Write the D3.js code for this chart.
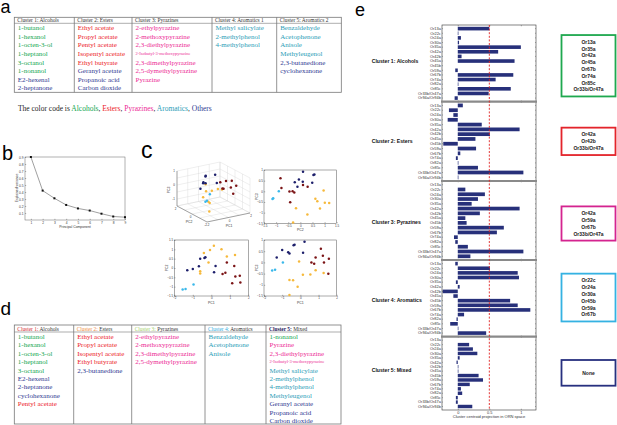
<!DOCTYPE html>
<html lang="en">
<head>
<meta charset="UTF-8">
<title>Odorant clusters and ORN projections</title>
<script src="https://d3js.org/d3.v7.min.js"></script>
<style>
  body { margin: 0; background: #fff; }
</style>
</head>
<body>
<svg id="fig" width="617" height="425"></svg>
<script>
const SERIF = "'Liberation Serif','Times New Roman',serif";
const SANS = "'Liberation Sans',Arial,sans-serif";

// odorant category colours: Alcohols, Esters, Pyrazines, aRomatics, Others
const catColors = { A: "#10a64f", E: "#ec2229", P: "#ec2b95", R: "#2b9db7", O: "#2f3a92" };

// ---------- panel a ----------
const headersA = ["Cluster 1: Alcohols", "Cluster 2: Esters", "Cluster 3: Pyrazines", "Cluster 4: Aromatics 1", "Cluster 5: Aromatics 2"];
const colsA = [
  [["1-butanol","A"],["1-hexanol","A"],["1-octen-3-ol","A"],["1-heptanol","A"],["3-octanol","A"],["1-nonanol","A"],["E2-hexenal","O"],["2-heptanone","O"]],
  [["Ethyl acetate","E"],["Propyl acetate","E"],["Pentyl acetate","E"],["Isopentyl acetate","E"],["Ethyl butyrate","E"],["Geranyl acetate","O"],["Propanoic acid","O"],["Carbon dioxide","O"]],
  [["2-ethylpyrazine","P"],["2-methoxypyrazine","P"],["2,3-diethylpyrazine","P"],["2-Isobutyl-3-methoxypyrazine","P"],["2,3-dimethylpyrazine","P"],["2,5-dymethylpyrazine","P"],["Pyrazine","P"]],
  [["Methyl salicylate","R"],["2-methylphenol","R"],["4-methylphenol","R"]],
  [["Benzaldehyde","R"],["Acetophenone","R"],["Anisole","R"],["Methyleugenol","R"],["2,3-butanedione","O"],["cyclohexanone","O"]]
];
const colorCode = [["Alcohols","A"],["Esters","E"],["Pyrazines","P"],["Aromatics","R"],["Others","O"]];

// ---------- panel b ----------
const pcNumber = [1, 2, 3, 4, 5, 6, 7, 8, 9];
const explainedVar = [0.9, 0.42, 0.31, 0.215, 0.165, 0.135, 0.09, 0.05, 0.04];

// ---------- panel c ----------
// 0 navy, 1 maroon, 2 light blue, 3 yellow
const pointCluster = [0,0,0,0,0,0,0,0, 1,1,1,1,1,1,1,1, 2,2,2, 3,3,3,3,3,3,3,3,3];
const pc1 = [-1.3,-1.0,-0.67,-0.6,-0.37,-0.32,0.15,0.23, 0.61,0.76,0.84,1.13,1.24,1.3,1.54,1.57, -1.55,-1.39,-0.96, -0.6,-0.6,-0.4,-0.15,-0.07,0.14,0.55,0.84,1.28];
const pc2 = [-0.12,-0.06,0.1,0.49,0.54,0.58,-0.23,0.11, -0.32,-0.25,0.3,-0.82,0.11,-0.45,-0.42,-0.78, -1.15,-1.12,-0.89, -0.3,-0.18,0.81,0.29,0.96,1.19,1.01,0.62,0.7];
const pc3 = [0.22,0.55,0.45,0.4,0.77,0.79,0.43,0.92, 0.0,-0.06,0.22,0.61,0.3,-0.01,-0.51,0.16, -0.36,-0.33,0.0, -1.46,-0.79,-0.8,-1.09,0.04,-0.55,-0.54,-0.35,-0.47];
const dotColors = ["#1d1f6b", "#7b1416", "#3ab8ea", "#f6b93b"];

// ---------- panel d ----------
const headersD = [["Cluster 1:", " Alcohols", "#d42a2f"], ["Cluster 2:", " Esters", "#f08a3a"], ["Cluster 3:", " Pyrazines", "#9fd06a"], ["Cluster 4:", " Aromatics", "#31aee2"], ["Cluster 5:", " Mixed", "#1f2060"]];
const colsD = [
  [["1-butanol","A"],["1-hexanol","A"],["1-octen-3-ol","A"],["1-heptanol","A"],["3-octanol","A"],["E2-hexenal","O"],["2-heptanone","O"],["cyclohexanone","O"],["Pentyl acetate","E"]],
  [["Ethyl acetate","E"],["Propyl acetate","E"],["Isopentyl acetate","E"],["Ethyl butyrate","E"],["2,3-butanedione","O"]],
  [["2-ethylpyrazine","P"],["2-methoxypyrazine","P"],["2,3-dimethylpyrazine","P"],["2,5-dymethylpyrazine","P"]],
  [["Benzaldehyde","R"],["Acetophenone","R"],["Anisole","R"]],
  [["1-nonanol","A"],["Pyrazine","P"],["2,3-diethylpyrazine","P"],["2-Isobutyl-3-methoxypyrazine","P"],["Methyl salicylate","R"],["2-methylphenol","R"],["4-methylphenol","R"],["Methyleugenol","R"],["Geranyl acetate","O"],["Propanoic acid","O"],["Carbon dioxide","O"]]
];

// ---------- panel e ----------
const receptors = ["Or13a","Or22c","Or24a","Or30a","Or35a","Or42a","Or42b","Or45a","Or45b","Or59a","Or67b","Or74a","Or82a","Or85c","Or33b/Or47a","Or94a/Or94b"];
const clusterNames = ["Cluster 1: Alcohols","Cluster 2: Esters","Cluster 3: Pyrazines","Cluster 4: Aromatics","Cluster 5: Mixed"];
const projC1 = [0.50,0.01,0.05,0.02,1.00,0.64,0.06,0.90,0.00,-0.04,0.88,0.60,0.01,0.84,0.49,-0.05];
const projC2 = [0.08,-0.14,-0.07,-0.16,0.38,0.98,0.51,0.28,-0.23,0.29,0.04,-0.03,0.01,0.32,1.04,0.01];
const projC3 = [0.00,0.12,0.43,0.32,0.22,0.98,0.35,0.12,0.14,0.73,0.62,-0.06,-0.04,0.16,1.04,0.20];
const projC4 = [-0.04,0.51,0.95,0.97,-0.03,0.03,-0.24,-0.07,0.83,0.95,1.15,0.10,-0.02,-0.12,0.01,0.45];
const projC5 = [0.00,0.18,0.24,0.31,0.03,-0.02,0.01,0.01,0.33,0.40,0.19,0.05,0.07,-0.03,-0.03,0.23];
const projections = [projC1, projC2, projC3, projC4, projC5];
const selectedOrs = [
  ["Or13a","Or35a","Or42a","Or45a","Or67b","Or74a","Or85c","Or33b/Or47a"],
  ["Or42a","Or42b","Or33b/Or47a"],
  ["Or42a","Or59a","Or67b","Or33b/Or47a"],
  ["Or22c","Or24a","Or30a","Or45b","Or59a","Or67b"],
  ["None"]
];
const boxColors = ["#1fa84f", "#e3242b", "#d4248f", "#35b2e2", "#27307f"];

const fig = d3.select("#fig");

function txt(g, x, y, s, size, o = {}) {
  const t = g.append("text").attr("x", x).attr("y", y).attr("font-size", size)
    .attr("font-family", o.family || SANS).attr("fill", o.fill || "#000").text(s);
  if (o.anchor) t.attr("text-anchor", o.anchor);
  if (o.weight) t.attr("font-weight", o.weight);
  if (o.rotate) t.attr("transform", `rotate(${o.rotate},${x},${y})`);
  return t;
}

function styleAxis(sel, size) {
  sel.select(".domain").remove();
  sel.selectAll("line").attr("stroke", "#444").attr("stroke-width", 0.4);
  sel.selectAll("text").attr("font-size", size).attr("font-family", SANS).attr("fill", "#333");
}

// panel letters
[["a", 0.5, 12.5, 18], ["b", 2, 160, 20], ["c", 141, 158, 23], ["d", 0.5, 315, 19], ["e", 355, 15.5, 18]]
  .forEach(([l, x, y, s]) => txt(fig, x, y, l, s));

// ---------- tables ----------
function drawTable(cfg, headers, cols) {
  const g = fig.append("g");
  const xs = cfg.x;
  g.append("rect").attr("x", xs[0]).attr("y", cfg.top)
    .attr("width", xs[xs.length - 1] - xs[0]).attr("height", cfg.bottom - cfg.top)
    .attr("fill", "none").attr("stroke", "#777").attr("stroke-width", 0.8);
  g.append("line").attr("x1", xs[0]).attr("x2", xs[xs.length - 1]).attr("y1", cfg.head).attr("y2", cfg.head)
    .attr("stroke", "#777").attr("stroke-width", 0.6);
  xs.slice(1, -1).forEach(x => g.append("line").attr("x1", x).attr("x2", x)
    .attr("y1", cfg.top).attr("y2", cfg.bottom).attr("stroke", "#777").attr("stroke-width", 0.8));
  headers.forEach((h, i) => {
    const t = txt(g, xs[i] + 3, cfg.head - 1.5, "", 5.4, { family: SERIF, fill: "#333" });
    if (typeof h === "string") t.text(h);
    else {
      t.append("tspan").attr("fill", h[2]).attr("font-weight", i === 4 ? "bold" : null).text(h[0]);
      t.append("tspan").text(h[1]);
    }
  });
  cols.forEach((col, i) => col.forEach(([name, cat], j) => {
    const small = name.length > 25;
    txt(g, xs[i] + 3.5, cfg.row0 + j * cfg.step - (small ? 0.8 : 0), name, small ? 4.5 : 7,
      { family: SERIF, fill: catColors[cat] });
  }));
}

drawTable({ x: [14.3, 74.3, 132, 212, 276.7, 341.3], top: 17.3, head: 23.3, bottom: 92.3, row0: 30.2, step: 8.6 }, headersA, colsA);

const cc = txt(fig, 18, 111, "The color code is ", 7.5, { family: SERIF, fill: "#222" });
colorCode.forEach(([w, c], i) => {
  cc.append("tspan").attr("fill", catColors[c]).text(w);
  if (i < colorCode.length - 1) cc.append("tspan").text(", ");
});

drawTable({ x: [14.3, 73.7, 131.7, 205, 266, 341], top: 325, head: 332, bottom: 424, row0: 339, step: 8.4 }, headersD, colsD);

// ---------- panel b ----------
{
  const g = fig.append("g");
  const x = d3.scaleLinear().domain([0.5, 9]).range([25, 125]);
  const y = d3.scaleLinear().domain([0, 0.9]).range([220, 157]);
  g.append("rect").attr("x", 25).attr("y", 157).attr("width", 100).attr("height", 63)
    .attr("fill", "none").attr("stroke", "#666").attr("stroke-width", 0.5);
  g.append("g").attr("transform", "translate(0,220)")
    .call(d3.axisBottom(x).tickValues(pcNumber).tickSize(-1.2).tickPadding(1.5)).call(s => styleAxis(s, 3.2));
  g.append("g").attr("transform", "translate(25,0)")
    .call(d3.axisLeft(y).tickValues(d3.range(1, 10).map(v => v / 10)).tickSize(-1.2).tickPadding(1.5)).call(s => styleAxis(s, 3.2));
  const pts = pcNumber.map((p, i) => [x(p), y(explainedVar[i])]);
  g.append("path").attr("d", d3.line()(pts)).attr("fill", "none").attr("stroke", "#777").attr("stroke-width", 0.7);
  g.selectAll(".m").data(pts).enter().append("rect")
    .attr("x", d => d[0] - 1).attr("y", d => d[1] - 1).attr("width", 2).attr("height", 2).attr("fill", "#111");
  txt(g, 75, 228, "Principal Component", 3.4, { anchor: "middle", fill: "#333" });
  txt(g, 18, 188, "Explained variance", 3.4, { anchor: "middle", fill: "#333", rotate: -90 });
}

// ---------- panel c ----------
const pts = pc1.map((v, i) => ({ a: v, b: pc2[i], c: pc3[i], k: pointCluster[i] }));

function scatter2d(r, xd, yd, xt, yt, xf, yf, xl, yl) {
  const g = fig.append("g");
  const x = d3.scaleLinear().domain(xd).range([r.x0, r.x1]);
  const y = d3.scaleLinear().domain(yd).range([r.y1, r.y0]);
  g.append("rect").attr("x", r.x0).attr("y", r.y0).attr("width", r.x1 - r.x0).attr("height", r.y1 - r.y0)
    .attr("fill", "none").attr("stroke", "#555").attr("stroke-width", 0.5);
  g.append("g").attr("transform", `translate(0,${r.y1})`)
    .call(d3.axisBottom(x).tickValues(xt).tickFormat(d3.format("")).tickSize(-1.2).tickPadding(1.2)).call(s => styleAxis(s, 3));
  g.append("g").attr("transform", `translate(${r.x0},0)`)
    .call(d3.axisLeft(y).tickValues(yt).tickFormat(d3.format("")).tickSize(-1.2).tickPadding(1.2)).call(s => styleAxis(s, 3));
  g.selectAll("circle").data(pts).enter().append("circle")
    .attr("cx", d => x(d[xf])).attr("cy", d => y(d[yf])).attr("r", 1.25).attr("fill", d => dotColors[d.k]);
  txt(g, (r.x0 + r.x1) / 2, r.y1 + 8, xl, 3.4, { anchor: "middle", fill: "#333" });
  txt(g, r.x0 - 6, (r.y0 + r.y1) / 2, yl, 3.4, { anchor: "middle", fill: "#333", rotate: -90 });
}

scatter2d({ x0: 264, x1: 336.7, y0: 170, y1: 223.3 }, [-1.5, 1.5], [-1.5, 1],
  [-1.5, -1, -0.5, 0, 0.5, 1, 1.5], [-1.5, -1, -0.5, 0, 0.5, 1], "b", "c", "PC2", "PC3");
scatter2d({ x0: 174.3, x1: 248.3, y0: 240, y1: 296 }, [-2, 2], [-1.5, 1.5],
  [-2, -1, 0, 1, 2], [-1.5, -1, -0.5, 0, 0.5, 1, 1.5], "a", "b", "PC1", "PC2");
scatter2d({ x0: 264, x1: 336.7, y0: 240, y1: 296 }, [-2, 2], [-1.5, 1],
  [-2, -1, 0, 1, 2], [-1.5, -1, -0.5, 0, 0.5, 1], "a", "c", "PC1", "PC3");

// 3D view
{
  const g = fig.append("g");
  const s1 = d3.scaleLinear().domain([-2, 2]).range([0, 1]);
  const s2 = d3.scaleLinear().domain([-2, 2]).range([0, 1]);
  const s3 = d3.scaleLinear().domain([-1.5, 1]).range([0, 1]);
  const O = [207, 222], VX = [43, -9], VY = [-30, -16], VZ = [0, -35];
  const P = (a, b, c) => {
    const u = s1(a), v = s2(b), w = s3(c);
    return [O[0] + u * VX[0] + v * VY[0] + w * VZ[0], O[1] + u * VX[1] + v * VY[1] + w * VZ[1]];
  };
  const seg = (p, q, col, wdt) => g.append("line").attr("x1", p[0]).attr("y1", p[1]).attr("x2", q[0]).attr("y2", q[1])
    .attr("stroke", col).attr("stroke-width", wdt);
  const t12 = [-2, -1, 0, 1, 2], t3 = [-1.5, -1, -0.5, 0, 0.5, 1];
  const grid = "#d6d6d6";
  t12.forEach(v => {
    seg(P(v, -2, -1.5), P(v, 2, -1.5), grid, 0.4);   // floor
    seg(P(-2, v, -1.5), P(2, v, -1.5), grid, 0.4);
    seg(P(v, 2, -1.5), P(v, 2, 1), grid, 0.4);       // back walls
    seg(P(2, v, -1.5), P(2, v, 1), grid, 0.4);
  });
  t3.forEach(v => {
    seg(P(-2, 2, v), P(2, 2, v), grid, 0.4);
    seg(P(2, -2, v), P(2, 2, v), grid, 0.4);
  });
  seg(P(-2, -2, -1.5), P(2, -2, -1.5), "#555", 0.5);
  seg(P(-2, -2, -1.5), P(-2, 2, -1.5), "#555", 0.5);
  seg(P(-2, 2, -1.5), P(-2, 2, 1), "#555", 0.5);
  [-2, 0, 2].forEach(v => {
    const p = P(v, -2, -1.5); txt(g, p[0] + 1, p[1] + 4, v, 3, { anchor: "middle", fill: "#333" });
    const q = P(-2, v, -1.5); txt(g, q[0] - 1.5, q[1] + 4, v, 3, { anchor: "middle", fill: "#333" });
  });
  [-1, 0, 1].forEach(v => { const p = P(-2, 2, v); txt(g, p[0] - 2, p[1] + 1, v, 3, { anchor: "end", fill: "#333" }); });
  txt(g, 189, 223, "PC2", 3.4, { anchor: "middle", fill: "#333" });
  txt(g, 229, 227, "PC1", 3.4, { anchor: "middle", fill: "#333" });
  txt(g, 170, 190, "PC3", 3.4, { anchor: "middle", fill: "#333", rotate: -90 });
  const sorted = pts.slice().sort((p, q) => (s1(q.a) + s2(q.b)) - (s1(p.a) + s2(p.b)));
  g.selectAll("circle").data(sorted).enter().append("circle")
    .attr("cx", d => P(d.a, d.b, d.c)[0]).attr("cy", d => P(d.a, d.b, d.c)[1])
    .attr("r", 1.25).attr("fill", d => dotColors[d.k]);
}

// ---------- panel e ----------
{
  const g = fig.append("g");
  const x = d3.scaleLinear().domain([-0.25, 1.24]).range([442, 536]);
  const edges = [25, 101.7, 181, 260, 336.7, 410];
  const labelShift = [-2.4, -0.3, 1.8, 1.6, -3];
  const boxShift = [2.4, 0, 3, -0.8, -0.5];
  projections.forEach((vals, k) => {
    const y0 = edges[k], y1 = edges[k + 1];
    const y = d3.scaleBand().domain(receptors).range([y0 + 0.8, y1 - 0.8]).padding(0.22);
    g.append("g").selectAll("rect").data(vals).enter().append("rect")
      .attr("x", v => x(Math.min(0, v))).attr("width", v => Math.abs(x(v) - x(0)))
      .attr("y", (v, i) => y(receptors[i])).attr("height", y.bandwidth()).attr("fill", "#27307a");
    const ax = g.append("g").attr("transform", "translate(442,0)")
      .call(d3.axisLeft(y).tickSize(-1).tickPadding(1.2));
    styleAxis(ax, 3.9);
    g.append("g").attr("transform", "translate(536,0)")
      .call(d3.axisRight(y).tickSize(-1).tickFormat("")).call(s => styleAxis(s, 3));
    g.append("g").attr("transform", `translate(0,${y0})`)
      .call(d3.axisTop(x).tickValues([0, 0.5, 1]).tickSize(-1.3).tickFormat("")).call(s => styleAxis(s, 3));
    const bot = g.append("g").attr("transform", `translate(0,${y1})`)
      .call(d3.axisBottom(x).tickValues([0, 0.5, 1]).tickSize(-1.3).tickPadding(1.5).tickFormat(d3.format("")));
    styleAxis(bot, 3.9);
    if (k < 4) bot.selectAll("text").remove();
    g.append("rect").attr("x", 442).attr("y", y0).attr("width", 94).attr("height", y1 - y0)
      .attr("fill", "none").attr("stroke", "#333").attr("stroke-width", 0.6);
    const cy = (y0 + y1) / 2;
    txt(g, 371.7, cy + labelShift[k] + 1.8, clusterNames[k], 5.15, { weight: "bold", fill: "#111" });
    // selected receptor box
    const items = selectedOrs[k];
    const h = Math.max(items.length * 6.8 + 7, 25.7);
    const bc = cy + boxShift[k];
    g.append("rect").attr("x", 561.5).attr("y", bc - h / 2).attr("width", 54).attr("height", h)
      .attr("fill", "none").attr("stroke", boxColors[k]).attr("stroke-width", 1.8);
    items.forEach((s, j) => txt(g, 588.5, bc - (items.length - 1) * 3.4 + j * 6.8 + 1.8, s, 5,
      { anchor: "middle", weight: "bold", fill: "#222" }));
  });
  edges.slice(1, -1).forEach(e => g.append("line").attr("x1", 441).attr("x2", 537).attr("y1", e).attr("y2", e)
    .attr("stroke", "#8a8a8a").attr("stroke-width", 2.2));
  g.append("line").attr("x1", x(0.5)).attr("x2", x(0.5)).attr("y1", 25).attr("y2", 410)
    .attr("stroke", "#e02020").attr("stroke-width", 0.9).attr("stroke-dasharray", "2,1.6");
  txt(g, 489, 418, "Cluster centroid projection in ORN space", 4, { anchor: "middle", fill: "#333" });
}
</script>
</body>
</html>
